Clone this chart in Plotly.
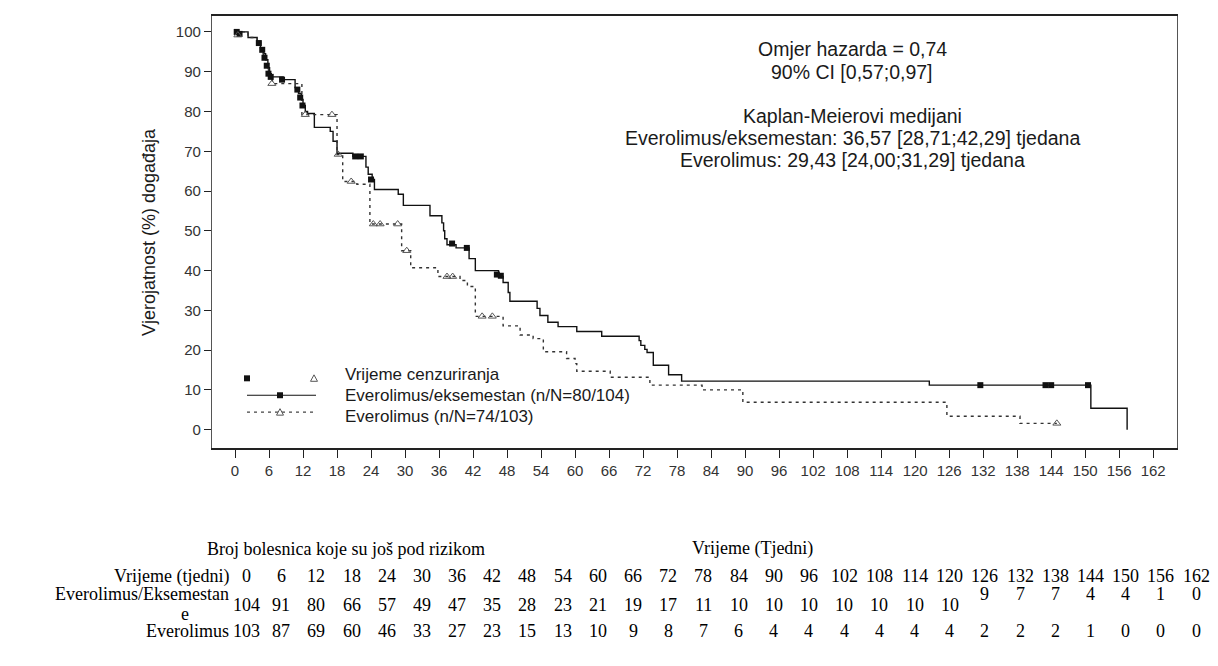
import plotly.graph_objects as go

# ---------------- data ----------------
ee_t = [0, 2.3, 3.9, 4.5, 5.0, 5.4, 5.8, 6.1, 6.4, 8.5, 10.6, 11.2, 11.7, 12.0, 12.4, 12.8, 14.0,
        16.8, 17.3, 18.0, 20.8, 23.1, 23.5, 24.2, 24.6, 28.8, 29.7, 34.4, 36.5, 36.8, 37.0, 37.4,
        39.0, 41.3, 42.4, 46.5, 47.3, 48.2, 48.5, 53.3, 53.8, 55.2, 57.0, 60.3, 64.7, 71.3, 71.6,
        72.3, 72.7, 73.8, 76.5, 78.8, 122.5, 151.0, 157.4]
ee_v = [100, 98.6, 97.5, 96, 94.5, 93, 91, 89.5, 88.7, 88.0, 86, 84.5, 83, 81.5, 80, 79.5, 76,
        75, 72.5, 69.5, 68.7, 66, 64.2, 62.9, 60.4, 59.2, 56.4, 53.8, 52, 50, 48, 46.5,
        45.7, 43, 40, 38.5, 37, 34.5, 32.3, 30.5, 28.7, 27, 25.9, 24.7, 23.5, 22.4, 21.2,
        20.2, 19.4, 16.2, 13.8, 12.2, 11.2, 5.4, 0]
ee_cens_t = [0.3, 0.8, 4.2, 4.8, 5.2, 5.6, 5.9, 6.3, 8.3, 11.0, 11.5, 11.9, 21.2, 22.2, 24.0,
             38.3, 40.9, 46.2, 46.9, 131.5, 143.0, 144.0, 150.5]
ee_cens_v = [100, 99.5, 97.2, 95.5, 93.5, 91.5, 89.5, 88.7, 88.0, 85.5, 83.5, 81.5, 68.7, 68.7, 62.9,
             46.8, 45.7, 39.0, 38.7, 11.2, 11.2, 11.2, 11.2]

e_t = [0, 2.3, 3.9, 4.5, 5.0, 5.5, 5.9, 6.2, 6.6, 11.8, 18.0, 19.0, 21.5, 23.8, 29.4, 31.0, 35.8,
       39.7, 41.0, 42.4, 47.3, 50.3, 52.6, 54.4, 58.5, 60.0, 60.3, 66.2, 73.2, 82.4, 89.6, 125.6,
       138.5, 145.0]
e_v = [100, 98.6, 97.5, 96, 94, 92, 90, 88, 87, 79.2, 69.2, 62.4, 61.7, 51.7, 45, 40.7, 38.5,
       37.5, 36, 28.5, 26.1, 23.8, 22.9, 19.6, 17.9, 16.6, 14.7, 13.2, 11.2, 10.0, 6.9, 3.4,
       1.6, 1.6]
e_cens_t = [0.5, 6.5, 12.4, 17.1, 18.2, 20.5, 24.4, 25.6, 28.7, 30.3, 37.4, 38.4, 43.6, 45.4, 145.0]
e_cens_v = [99.2, 87, 79.2, 79.2, 69.2, 62.4, 51.7, 51.7, 51.7, 45, 38.5, 38.5, 28.5, 28.5, 1.6]

x_ticks = list(range(0, 163, 6))
y_ticks = list(range(0, 101, 10))

risk_times = [0, 6, 12, 18, 24, 30, 36, 42, 48, 54, 60, 66, 72, 78, 84, 90, 96, 102, 108, 114,
              120, 126, 132, 138, 144, 150, 156, 162]
risk_ee = [104, 91, 80, 66, 57, 49, 47, 35, 28, 23, 21, 19, 17, 11, 10, 10, 10, 10, 10, 10, 10,
           9, 7, 7, 4, 4, 1, 0]
risk_e = [103, 87, 69, 60, 46, 33, 27, 23, 15, 13, 10, 9, 8, 7, 6, 4, 4, 4, 4, 4, 4, 2, 2, 2, 1,
          0, 0, 0]

stats_lines = ["Omjer hazarda = 0,74", "90% CI [0,57;0,97]", "Kaplan-Meierovi medijani",
               "Everolimus/eksemestan: 36,57 [28,71;42,29] tjedana",
               "Everolimus: 29,43 [24,00;31,29] tjedana"]

# ---------------- figure ----------------
W, H = 1218, 666
OFF = 8  # page body margin in the browser
L, R, T, B = 212 - OFF, 1177 - OFF, 14 - OFF, 448 - OFF


def px(x):
    return (x - OFF - L) / (R - L)


def py(y):
    return (B - (y - OFF)) / (B - T)


fig = go.Figure()
fig.add_trace(go.Scatter(x=ee_t, y=ee_v, mode="lines", line=dict(color="#111", width=1.4, shape="hv"),
                         showlegend=False, hoverinfo="skip"))
fig.add_trace(go.Scatter(x=e_t, y=e_v, mode="lines",
                         line=dict(color="#333", width=1.4, shape="hv", dash="3px,4px"),
                         showlegend=False, hoverinfo="skip"))
fig.add_trace(go.Scatter(x=ee_cens_t, y=ee_cens_v, mode="markers",
                         marker=dict(symbol="square", size=6, color="#111"), showlegend=False))
fig.add_trace(go.Scatter(x=e_cens_t, y=e_cens_v, mode="markers",
                         marker=dict(symbol="triangle-up-open", size=7, color="#555", line=dict(width=1)),
                         showlegend=False))

ann = []
sfont = dict(family="Liberation Sans, Arial", size=19.5, color="#1a1a1a")
stat_y = [47, 70, 114, 137, 159]
for txt, yy in zip(stats_lines, stat_y):
    ann.append(dict(x=px(852), y=py(yy), xref="paper", yref="paper", text=txt, showarrow=False,
                    xanchor="center", yanchor="middle", font=sfont))

# legend (manual)
lfont = dict(family="Liberation Sans, Arial", size=17, color="#1a1a1a")
for txt, yy in zip(["Vrijeme cenzuriranja", "Everolimus/eksemestan (n/N=80/104)", "Everolimus (n/N=74/103)"],
                   [374, 395, 416]):
    ann.append(dict(x=px(343), y=py(yy), xref="paper", yref="paper", text=txt, showarrow=False,
                    xanchor="left", yanchor="middle", font=lfont))
shapes = []
shapes.append(dict(type="line", xref="paper", yref="paper", x0=px(247), x1=px(316), y0=py(395), y1=py(395),
                   line=dict(color="#111", width=1.2)))
shapes.append(dict(type="line", xref="paper", yref="paper", x0=px(247), x1=px(316), y0=py(412), y1=py(412),
                   line=dict(color="#444", width=1.2, dash="3px,4px")))
for cx, cy in [(247, 378), (280, 395)]:
    shapes.append(dict(type="rect", xref="paper", yref="paper", x0=px(cx - 3), x1=px(cx + 3),
                       y0=py(cy + 3), y1=py(cy - 3), fillcolor="#111", line=dict(width=0)))
for cx, cy in [(314, 378), (280, 412)]:
    shapes.append(dict(type="path", xref="paper", yref="paper",
                       path=f"M {px(cx-3.5)} {py(cy+3)} L {px(cx+3.5)} {py(cy+3)} L {px(cx)} {py(cy-3.5)} Z",
                       line=dict(color="#555", width=1), fillcolor="white"))

# y axis title
ann.append(dict(x=px(137), y=py(231), xref="paper", yref="paper", text="Vjerojatnost (%) događaja",
                textangle=-90, showarrow=False, font=dict(family="Liberation Sans, Arial", size=18,
                                                          color="#1a1a1a")))

# risk table
tfont = dict(family="Liberation Serif, Times New Roman", size=18, color="#000")
ann.append(dict(x=px(205), y=py(549), xref="paper", yref="paper", text="Broj bolesnica koje su još pod rizikom",
                showarrow=False, xanchor="left", yanchor="middle", font=tfont))
ann.append(dict(x=px(690), y=py(549), xref="paper", yref="paper", text="Vrijeme (Tjedni)",
                showarrow=False, xanchor="left", yanchor="middle", font=tfont))
ann.append(dict(x=px(231), y=py(577), xref="paper", yref="paper", text="Vrijeme (tjedni)",
                showarrow=False, xanchor="right", yanchor="middle", font=tfont))
ann.append(dict(x=px(231), y=py(595), xref="paper", yref="paper", text="Everolimus/Eksemestan",
                showarrow=False, xanchor="right", yanchor="middle", font=tfont))
ann.append(dict(x=px(185), y=py(615), xref="paper", yref="paper", text="e",
                showarrow=False, xanchor="center", yanchor="middle", font=tfont))
ann.append(dict(x=px(231), y=py(632), xref="paper", yref="paper", text="Everolimus",
                showarrow=False, xanchor="right", yanchor="middle", font=tfont))
x0c, x1c = 246, 1196
n = len(risk_times)
for i in range(n):
    cx = x0c + (x1c - x0c) * i / (n - 1)
    ann.append(dict(x=px(cx), y=py(577), xref="paper", yref="paper", text=str(risk_times[i]),
                    showarrow=False, xanchor="center", yanchor="middle", font=tfont))
    ann.append(dict(x=px(cx), y=py(606 if risk_times[i] < 126 else 595), xref="paper", yref="paper",
                    text=str(risk_ee[i]), showarrow=False, xanchor="center", yanchor="middle", font=tfont))
    ann.append(dict(x=px(cx), y=py(632), xref="paper", yref="paper", text=str(risk_e[i]),
                    showarrow=False, xanchor="center", yanchor="middle", font=tfont))

axfont = dict(family="Liberation Sans, Arial", size=15, color="#333")
fig.update_layout(
    width=W, height=H, margin=dict(l=L, r=W - R, t=T, b=H - B, pad=0),
    paper_bgcolor="white", plot_bgcolor="white",
    xaxis=dict(range=[-4.06, 166.2], tickvals=x_ticks, ticks="outside", ticklen=8, tickwidth=1.2,
               tickcolor="#222", showline=True, linecolor="#222", linewidth=1.5, mirror=True,
               showgrid=False, zeroline=False, tickfont=axfont),
    yaxis=dict(range=[-4.6, 104.0], tickvals=y_ticks, ticks="outside", ticklen=7, tickwidth=1.2,
               tickcolor="#222", showline=True, linecolor="#555", linewidth=1.2, mirror=True,
               showgrid=False, zeroline=False, tickfont=axfont),
    annotations=ann, shapes=shapes,
)
fig.write_html("out.html")
